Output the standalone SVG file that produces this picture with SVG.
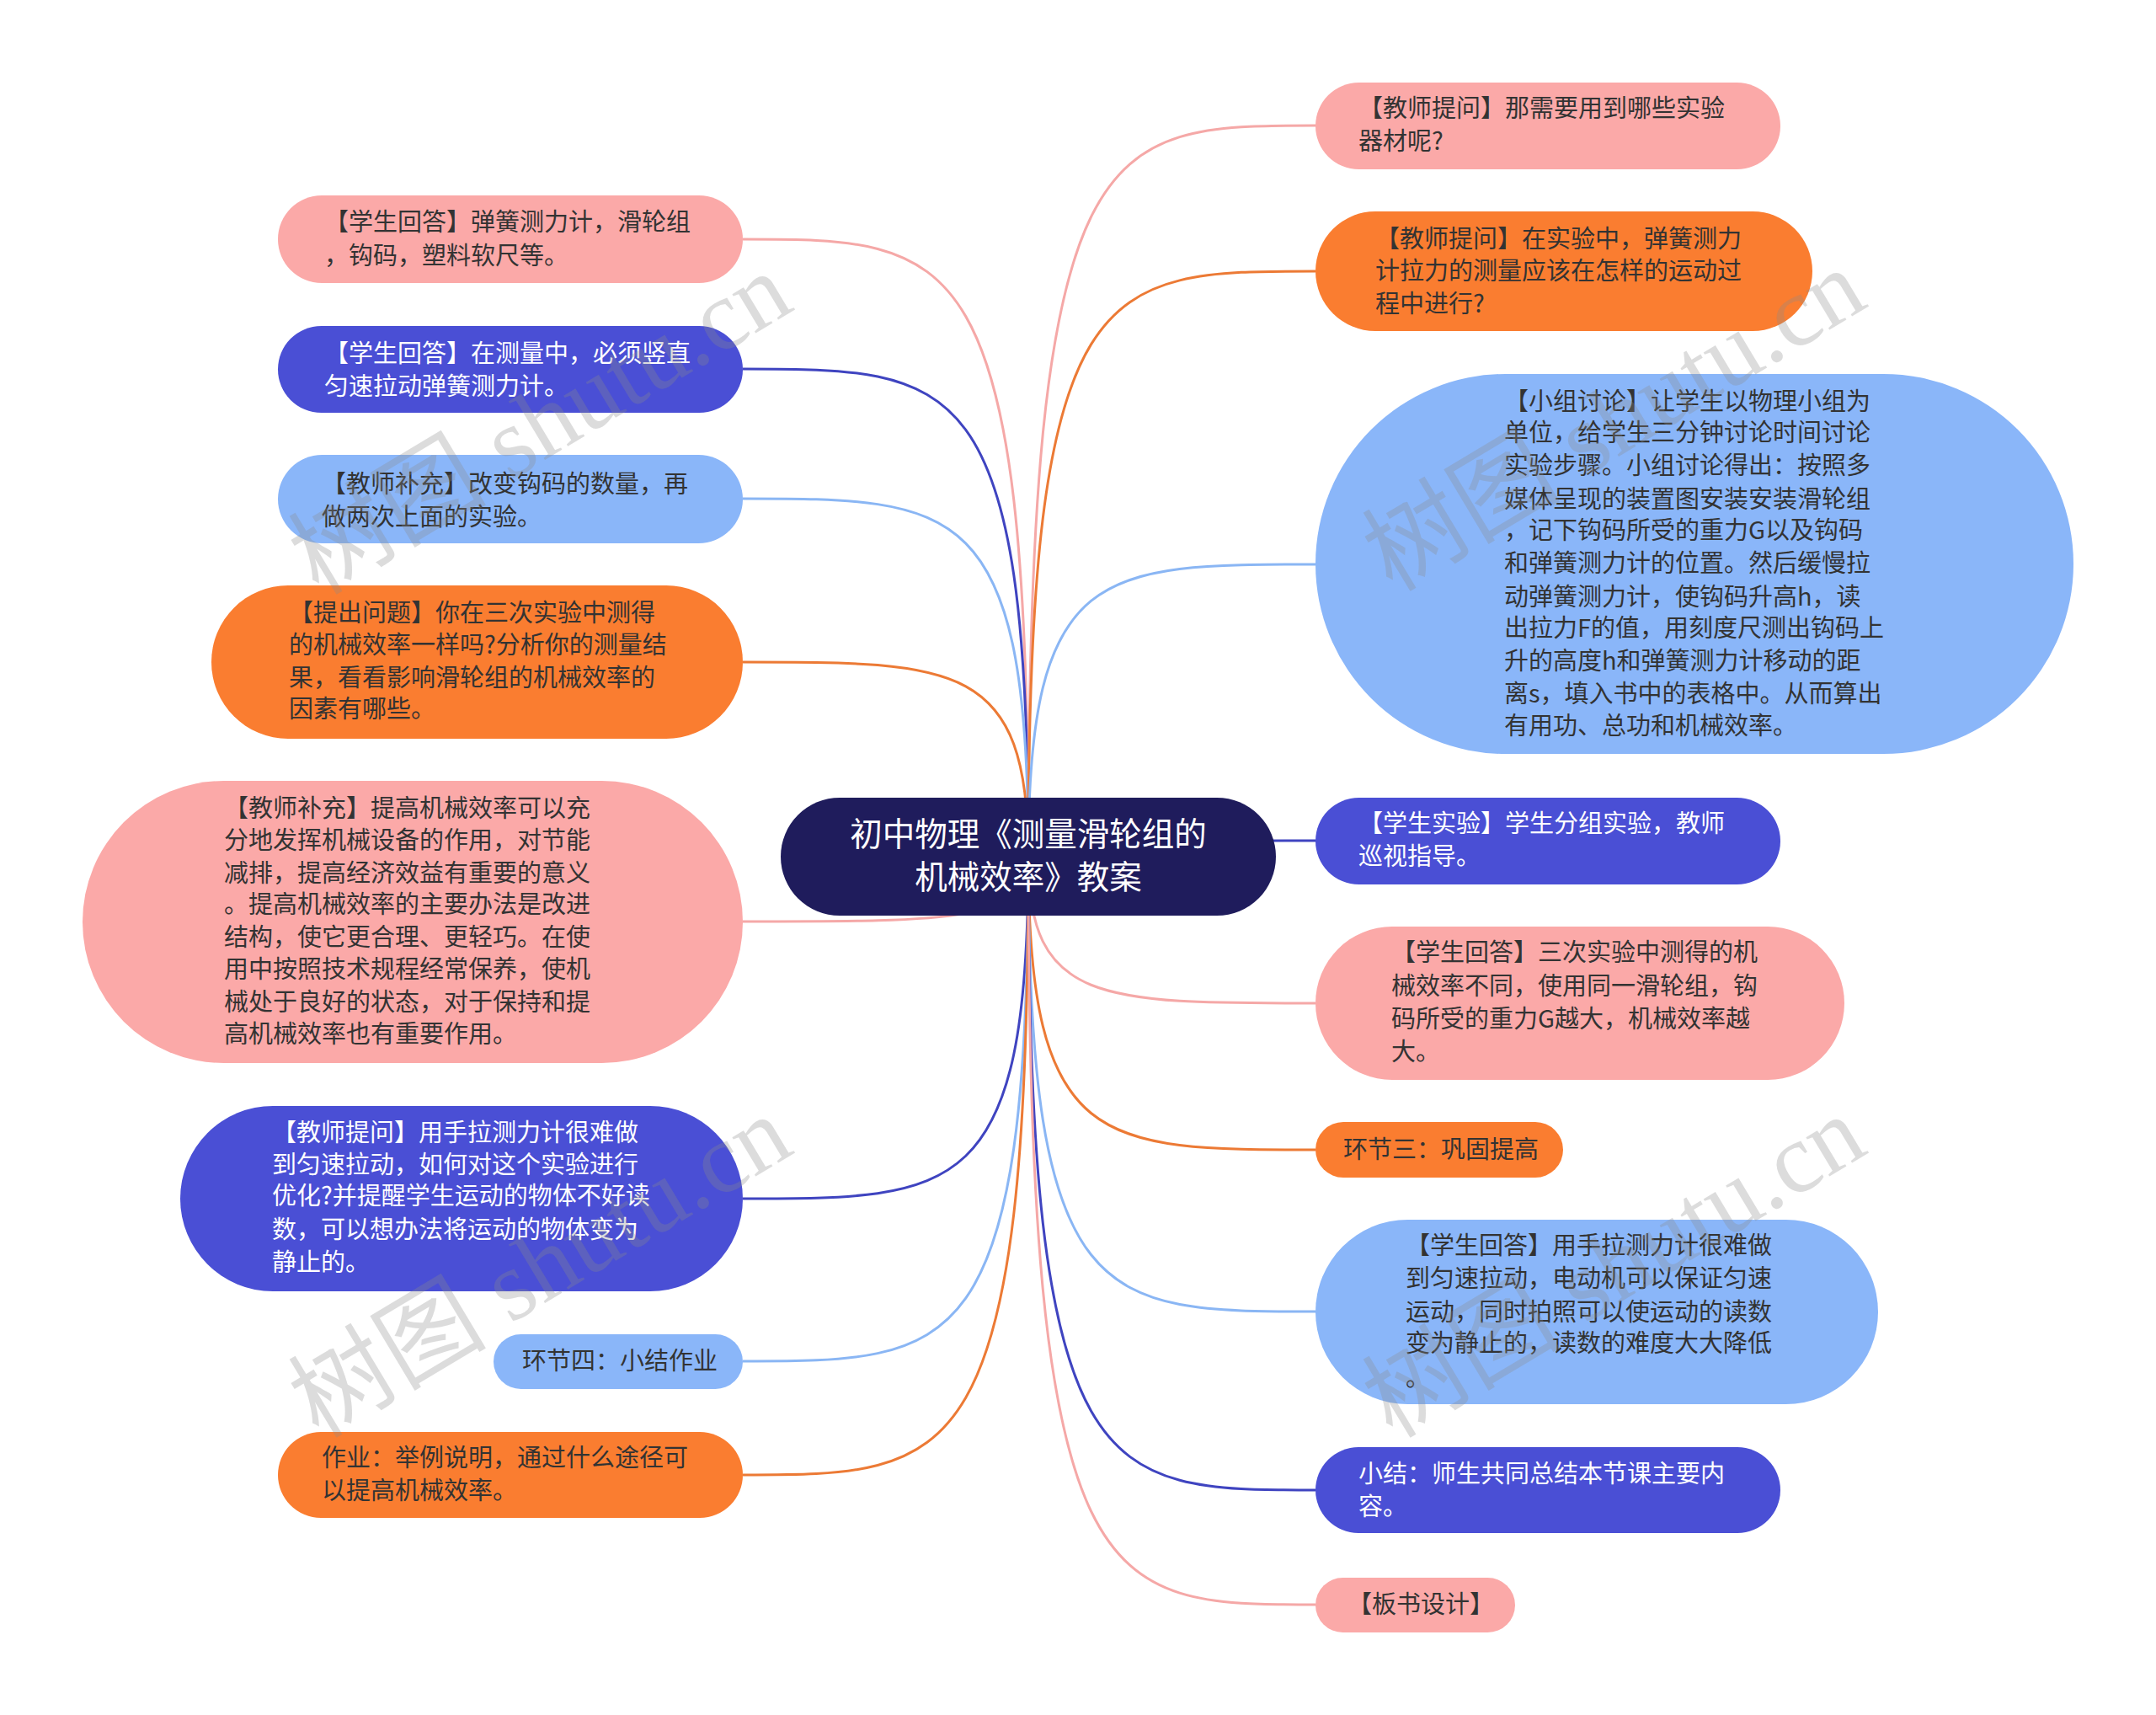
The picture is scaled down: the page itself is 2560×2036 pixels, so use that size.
<svg xmlns="http://www.w3.org/2000/svg" width="2560" height="2036" viewBox="0 0 2560 2036">
<style>
.t{font-family:"Noto Sans CJK SC","Noto Sans",sans-serif;font-size:29px;fill:#333333}
.w{fill:#ffffff}
.c{font-family:"Noto Sans CJK SC","Noto Sans",sans-serif;font-size:38.5px;fill:#ffffff}
.pink{fill:#fba9a8}
.orange{fill:#fa7d30}
.violet{fill:#4a4fd5}
.light{fill:#8ab6f9}
.lp{stroke:#f5a8a7}
.lo{stroke:#ec7a35}
.lv{stroke:#3f44c0}
.ll{stroke:#8ab6f4}
#connectors path{fill:none;stroke-width:3}
.wm{font-family:"Liberation Serif","Noto Sans CJK SC",serif;font-size:118px;fill:#8a8a8a;fill-opacity:0.3}
</style>
<rect width="2560" height="2036" fill="#ffffff"/>
<g id="connectors">
<path class="lp" d="M1221 1017 C1221 284 1136 284 882 284"/>
<path class="lv" d="M1221 1017 C1221 438 1136 438 882 438"/>
<path class="ll" d="M1221 1017 C1221 592 1136 592 882 592"/>
<path class="lo" d="M1221 1017 C1221 786 1136 786 882 786"/>
<path class="lp" d="M1221 1017 C1221 1094 1136 1094 882 1094"/>
<path class="lv" d="M1221 1017 C1221 1423 1136 1423 882 1423"/>
<path class="ll" d="M1221 1017 C1221 1616 1136 1616 882 1616"/>
<path class="lo" d="M1221 1017 C1221 1751 1136 1751 882 1751"/>
<path class="lp" d="M1221 1017 C1221 149 1306 149 1562 149"/>
<path class="lo" d="M1221 1017 C1221 322 1306 322 1562 322"/>
<path class="ll" d="M1221 1017 C1221 670 1306 670 1562 670"/>
<path class="lv" d="M1221 1017 C1221 998 1306 998 1562 998"/>
<path class="lp" d="M1221 1017 C1221 1191 1306 1191 1562 1191"/>
<path class="lo" d="M1221 1017 C1221 1365 1306 1365 1562 1365"/>
<path class="ll" d="M1221 1017 C1221 1557 1306 1557 1562 1557"/>
<path class="lv" d="M1221 1017 C1221 1769 1306 1769 1562 1769"/>
<path class="lp" d="M1221 1017 C1221 1905 1306 1905 1562 1905"/>
</g>
<g id="center">
<rect x="927" y="947" width="588" height="140" rx="70" fill="#1f1c5c"/>
<text class="c" x="1221" y="1004" text-anchor="middle">初中物理《测量滑轮组的</text>
<text class="c" x="1221" y="1055" text-anchor="middle">机械效率》教案</text>
</g>
<g id="L1">
<rect class="pink" x="330" y="232" width="552" height="104" rx="52"/>
<text class="t" x="385" y="274">【学生回答】弹簧测力计，滑轮组</text>
<text class="t" x="385" y="314">，钩码，塑料软尺等。</text>
</g>
<g id="L2">
<rect class="violet" x="330" y="387" width="552" height="103" rx="51.5"/>
<text class="t w" x="385" y="430">【学生回答】在测量中，必须竖直</text>
<text class="t w" x="385" y="469">匀速拉动弹簧测力计。</text>
</g>
<g id="L3">
<rect class="light" x="330" y="540" width="552" height="105" rx="52.5"/>
<text class="t" x="382" y="585">【教师补充】改变钩码的数量，再</text>
<text class="t" x="382" y="624">做两次上面的实验。</text>
</g>
<g id="L4">
<rect class="orange" x="251" y="695" width="631" height="182" rx="91"/>
<text class="t" x="343" y="738">【提出问题】你在三次实验中测得</text>
<text class="t" x="343" y="776">的机械效率一样吗?分析你的测量结</text>
<text class="t" x="343" y="815">果，看看影响滑轮组的机械效率的</text>
<text class="t" x="343" y="852">因素有哪些。</text>
</g>
<g id="L5">
<rect class="pink" x="98" y="927" width="784" height="335" rx="167.5"/>
<text class="t" x="266" y="970">【教师补充】提高机械效率可以充</text>
<text class="t" x="266" y="1008">分地发挥机械设备的作用，对节能</text>
<text class="t" x="266" y="1047">减排，提高经济效益有重要的意义</text>
<text class="t" x="266" y="1084">。提高机械效率的主要办法是改进</text>
<text class="t" x="266" y="1123">结构，使它更合理、更轻巧。在使</text>
<text class="t" x="266" y="1161">用中按照技术规程经常保养，使机</text>
<text class="t" x="266" y="1200">械处于良好的状态，对于保持和提</text>
<text class="t" x="266" y="1238">高机械效率也有重要作用。</text>
</g>
<g id="L6">
<rect class="violet" x="214" y="1313" width="668" height="220" rx="110"/>
<text class="t w" x="323" y="1355">【教师提问】用手拉测力计很难做</text>
<text class="t w" x="323" y="1393">到匀速拉动，如何对这个实验进行</text>
<text class="t w" x="323" y="1430">优化?并提醒学生运动的物体不好读</text>
<text class="t w" x="323" y="1470">数，可以想办法将运动的物体变为</text>
<text class="t w" x="323" y="1509">静止的。</text>
</g>
<g id="L7">
<rect class="light" x="586" y="1584" width="296" height="65" rx="32.5"/>
<text class="t" x="620" y="1626">环节四：小结作业</text>
</g>
<g id="L8">
<rect class="orange" x="330" y="1700" width="552" height="102" rx="51"/>
<text class="t" x="382" y="1741">作业：举例说明，通过什么途径可</text>
<text class="t" x="382" y="1780">以提高机械效率。</text>
</g>
<g id="R1">
<rect class="pink" x="1562" y="98" width="552" height="103" rx="51.5"/>
<text class="t" x="1613" y="139">【教师提问】那需要用到哪些实验</text>
<text class="t" x="1613" y="178">器材呢?</text>
</g>
<g id="R2">
<rect class="orange" x="1562" y="251" width="590" height="142" rx="71"/>
<text class="t" x="1633" y="294">【教师提问】在实验中，弹簧测力</text>
<text class="t" x="1633" y="332">计拉力的测量应该在怎样的运动过</text>
<text class="t" x="1633" y="371">程中进行?</text>
</g>
<g id="R3">
<rect class="light" x="1562" y="444" width="900" height="451" rx="225.5"/>
<text class="t" x="1786" y="487">【小组讨论】让学生以物理小组为</text>
<text class="t" x="1786" y="524">单位，给学生三分钟讨论时间讨论</text>
<text class="t" x="1786" y="563">实验步骤。小组讨论得出：按照多</text>
<text class="t" x="1786" y="603">媒体呈现的装置图安装安装滑轮组</text>
<text class="t" x="1786" y="640">，记下钩码所受的重力G以及钩码</text>
<text class="t" x="1786" y="679">和弹簧测力计的位置。然后缓慢拉</text>
<text class="t" x="1786" y="719">动弹簧测力计，使钩码升高h，读</text>
<text class="t" x="1786" y="756">出拉力F的值，用刻度尺测出钩码上</text>
<text class="t" x="1786" y="795">升的高度h和弹簧测力计移动的距</text>
<text class="t" x="1786" y="834">离s，填入书中的表格中。从而算出</text>
<text class="t" x="1786" y="872">有用功、总功和机械效率。</text>
</g>
<g id="R4">
<rect class="violet" x="1562" y="947" width="552" height="103" rx="51.5"/>
<text class="t w" x="1613" y="988">【学生实验】学生分组实验，教师</text>
<text class="t w" x="1613" y="1027">巡视指导。</text>
</g>
<g id="R5">
<rect class="pink" x="1562" y="1100" width="628" height="182" rx="91"/>
<text class="t" x="1652" y="1141">【学生回答】三次实验中测得的机</text>
<text class="t" x="1652" y="1181">械效率不同，使用同一滑轮组，钩</text>
<text class="t" x="1652" y="1220">码所受的重力G越大，机械效率越</text>
<text class="t" x="1652" y="1259">大。</text>
</g>
<g id="R6">
<rect class="orange" x="1562" y="1332" width="294" height="66" rx="33"/>
<text class="t" x="1595" y="1375">环节三：巩固提高</text>
</g>
<g id="R7">
<rect class="light" x="1562" y="1448" width="668" height="219" rx="109.5"/>
<text class="t" x="1669" y="1489">【学生回答】用手拉测力计很难做</text>
<text class="t" x="1669" y="1528">到匀速拉动，电动机可以保证匀速</text>
<text class="t" x="1669" y="1568">运动，同时拍照可以使运动的读数</text>
<text class="t" x="1669" y="1605">变为静止的，读数的难度大大降低</text>
<text class="t" x="1669" y="1646">。</text>
</g>
<g id="R8">
<rect class="violet" x="1562" y="1718" width="552" height="102" rx="51"/>
<text class="t w" x="1613" y="1760">小结：师生共同总结本节课主要内</text>
<text class="t w" x="1613" y="1799">容。</text>
</g>
<g id="R9">
<rect class="pink" x="1562" y="1873" width="237" height="65" rx="32.5"/>
<text class="t" x="1600" y="1915">【板书设计】</text>
</g>
<g id="watermarks">
<text class="wm" transform="translate(648 514) rotate(-31)" text-anchor="middle" dominant-baseline="middle">树图 shutu.cn</text>
<text class="wm" transform="translate(1923 510) rotate(-31)" text-anchor="middle" dominant-baseline="middle">树图 shutu.cn</text>
<text class="wm" transform="translate(648 1515) rotate(-31)" text-anchor="middle" dominant-baseline="middle">树图 shutu.cn</text>
<text class="wm" transform="translate(1923 1515) rotate(-31)" text-anchor="middle" dominant-baseline="middle">树图 shutu.cn</text>
</g>
</svg>
